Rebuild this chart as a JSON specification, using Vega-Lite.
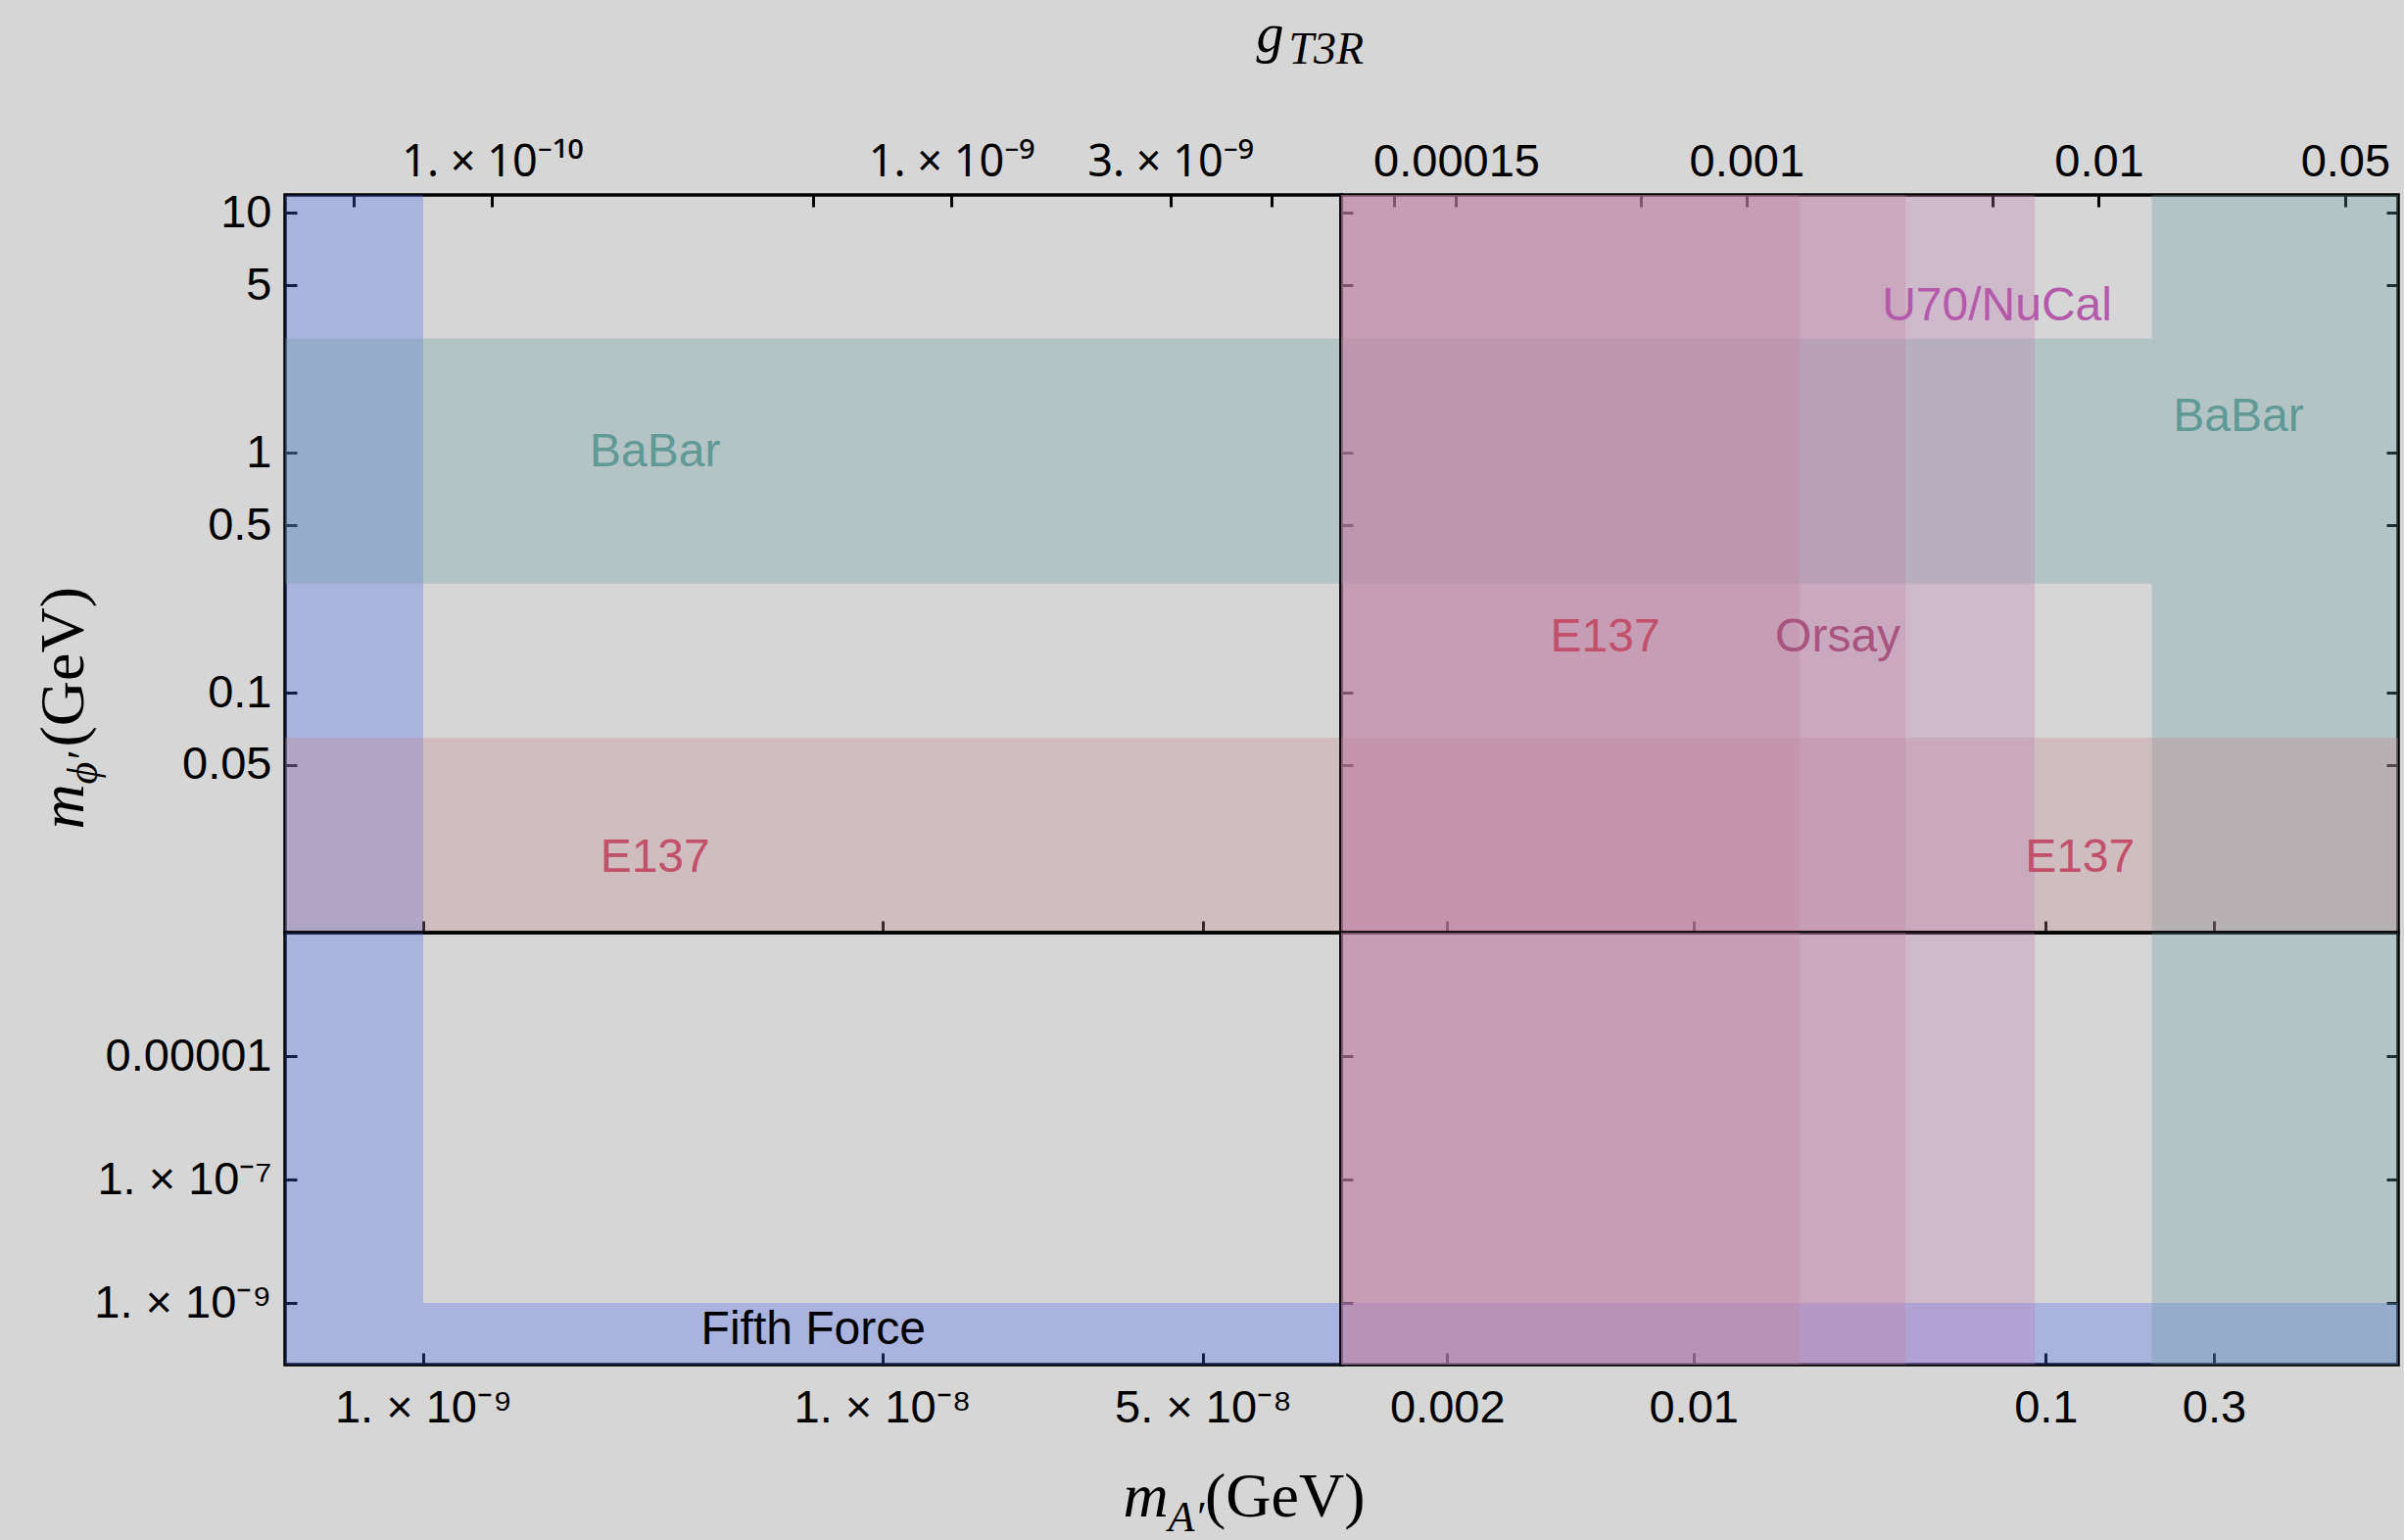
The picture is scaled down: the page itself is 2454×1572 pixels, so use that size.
{
  "$schema": "https://vega.github.io/schema/vega-lite/v6.json",
  "background": "#d6d6d6",
  "padding": {"left": 31, "top": 5, "right": 6, "bottom": 5},
  "datasets": {
    "regions": [
      {"experiment": "Fifth Force", "band": "upper", "mA_lo": 1e-12, "mA_hi": 1e-9, "mphi_lo": 0.001, "mphi_hi": 100},
      {"experiment": "BaBar", "band": "upper", "mA_lo": 1e-12, "mA_hi": 0.2, "mphi_lo": 0.285, "mphi_hi": 3},
      {"experiment": "BaBar", "band": "upper", "mA_lo": 0.2, "mA_hi": 10, "mphi_lo": 0.001, "mphi_hi": 100},
      {"experiment": "E137", "band": "upper", "mA_lo": 1e-12, "mA_hi": 10, "mphi_lo": 0.001, "mphi_hi": 0.065},
      {"experiment": "E137", "band": "upper", "mA_lo": 0.0001, "mA_hi": 0.02, "mphi_lo": 0.001, "mphi_hi": 100},
      {"experiment": "Orsay", "band": "upper", "mA_lo": 0.0001, "mA_hi": 0.04, "mphi_lo": 0.001, "mphi_hi": 100},
      {"experiment": "U70/NuCal", "band": "upper", "mA_lo": 0.0001, "mA_hi": 0.093, "mphi_lo": 0.001, "mphi_hi": 100},
      {"experiment": "Fifth Force", "band": "lower", "mA_lo": 1e-12, "mA_hi": 1e-9, "mphi_lo": 1e-12, "mphi_hi": 1},
      {"experiment": "Fifth Force", "band": "lower", "mA_lo": 1e-9, "mA_hi": 10, "mphi_lo": 1e-12, "mphi_hi": 1e-9},
      {"experiment": "BaBar", "band": "lower", "mA_lo": 0.2, "mA_hi": 10, "mphi_lo": 1e-12, "mphi_hi": 1},
      {"experiment": "E137", "band": "lower", "mA_lo": 0.0001, "mA_hi": 0.02, "mphi_lo": 1e-12, "mphi_hi": 1},
      {"experiment": "Orsay", "band": "lower", "mA_lo": 0.0001, "mA_hi": 0.04, "mphi_lo": 1e-12, "mphi_hi": 1},
      {"experiment": "U70/NuCal", "band": "lower", "mA_lo": 0.0001, "mA_hi": 0.093, "mphi_lo": 1e-12, "mphi_hi": 1}
    ],
    "labels": [
      {"label": "BaBar", "experiment": "BaBar", "band": "upper", "side": "left", "mA": 3.2e-9, "mphi": 1},
      {"label": "E137", "experiment": "E137", "band": "upper", "side": "left", "mA": 3.2e-9, "mphi": 0.0204},
      {"label": "U70/NuCal", "experiment": "U70/NuCal", "band": "upper", "side": "right", "mA": 0.0727, "mphi": 4.08},
      {"label": "BaBar", "experiment": "BaBar", "band": "upper", "side": "right", "mA": 0.352, "mphi": 1.41},
      {"label": "E137", "experiment": "E137", "band": "upper", "side": "right", "mA": 0.00562, "mphi": 0.17},
      {"label": "Orsay", "experiment": "Orsay", "band": "upper", "side": "right", "mA": 0.0257, "mphi": 0.17},
      {"label": "E137", "experiment": "E137", "band": "upper", "side": "right", "mA": 0.125, "mphi": 0.0204},
      {"label": "Fifth Force", "experiment": "Fifth Force", "band": "lower", "side": "left", "mA": 7.08e-9, "mphi": 3.65e-10}
    ],
    "gLeft": [{"g": 5e-11}, {"g": 1e-10}, {"g": 5e-10}, {"g": 1e-9}, {"g": 3e-9}, {"g": 5e-9}],
    "gRight": [{"g": 0.0001}, {"g": 0.00015}, {"g": 0.0005}, {"g": 0.001}, {"g": 0.005}, {"g": 0.01}, {"g": 0.05}],
    "phiUpper": [{"mphi": 10}, {"mphi": 5}, {"mphi": 1}, {"mphi": 0.5}, {"mphi": 0.1}, {"mphi": 0.05}],
    "phiLower": [{"mphi": 1e-5}, {"mphi": 1e-7}, {"mphi": 1e-9}]
  },
  "columns": 2,
  "spacing": 0,
  "bounds": "flush",
  "align": "each",
  "concat": [
    {
      "width": 1078,
      "height": 753,
      "layer": [
        {
          "layer": [
            {
              "data": {"name": "regions"},
              "transform": [{"filter": "datum.band === 'upper'"}],
              "mark": {"type": "rect", "clip": true, "opacity": 0.3},
              "encoding": {
                "x": {"field": "mA_lo", "type": "quantitative",
                  "scale": {"type": "log", "domain": [5e-10, 1e-7], "nice": false},
                  "axis": {"orient": "bottom", "values": [1e-9, 1e-8, 5e-8], "labels": false,
                    "title": "ϕ′", "titleFontSize": 44, "titleFontStyle": "italic", "titleAngle": 270,
                    "titleAlign": "left", "titleBaseline": "alphabetic", "titleX": -193, "titleY": -152}},
                "x2": {"field": "mA_hi"},
                "y": {"field": "mphi_lo", "type": "quantitative",
                  "scale": {"type": "log", "domain": [0.01, 11.9], "nice": false},
                  "axis": {"values": [10, 5, 1, 0.5, 0.1, 0.05], "labelExpr": "toString(datum.value)",
                    "title": "(GeV)", "titleFontSize": 64, "titleAngle": 270,
                    "titleAlign": "left", "titleBaseline": "alphabetic", "titleX": -207, "titleY": 563}},
                "y2": {"field": "mphi_hi"},
                "fill": {"field": "experiment", "type": "nominal", "legend": null,
                  "scale": {"domain": ["Fifth Force", "BaBar", "E137", "Orsay", "U70/NuCal"],
                    "range": ["#4365f1", "#689d9d", "#c5868d", "#c087a0", "#bf7cb5"]}}
              }
            },
            {
              "data": {"name": "labels"},
              "transform": [{"filter": "datum.band === 'upper' && datum.side === 'left'"}],
              "mark": {"type": "text", "clip": true, "font": "Liberation Sans", "fontSize": 48},
              "encoding": {
                "x": {"field": "mA", "type": "quantitative"},
                "y": {"field": "mphi", "type": "quantitative"},
                "text": {"field": "label"},
                "color": {"field": "experiment", "type": "nominal", "legend": null,
                  "scale": {"domain": ["Fifth Force", "BaBar", "E137", "Orsay", "U70/NuCal"],
                    "range": ["#000000", "#5f9a96", "#c2506a", "#a9537f", "#b55aab"]}}
              }
            }
          ]
        },
        {
          "data": {"name": "gLeft"},
          "mark": {"type": "rule", "opacity": 0},
          "encoding": {
            "x": {"field": "g", "type": "quantitative",
              "scale": {"type": "log", "domain": [3.54e-11, 7.07e-9], "nice": false},
              "axis": {"orient": "top", "values": [5e-11, 1e-10, 5e-10, 1e-9, 3e-9, 5e-9],
                "labelFont": "Noto Sans", "labelFontSize": 45,
                "labelExpr": "datum.value == 1e-10 ? '1. × 10⁻¹⁰' : datum.value == 1e-9 ? '1. × 10⁻⁹' : datum.value == 3e-9 ? '3. × 10⁻⁹' : ''",
                "title": "g", "titleFontSize": 56, "titleFontStyle": "italic", "titleAngle": 0,
                "titleAlign": "left", "titleBaseline": "alphabetic", "titleX": 991, "titleY": -147}}
          }
        }
      ],
      "resolve": {"scale": {"x": "independent"}}
    },
    {
      "width": 1079,
      "height": 753,
      "layer": [
        {
          "layer": [
            {
              "data": {"name": "regions"},
              "transform": [{"filter": "datum.band === 'upper'"}],
              "mark": {"type": "rect", "clip": true, "opacity": 0.3},
              "encoding": {
                "x": {"field": "mA_lo", "type": "quantitative",
                  "scale": {"type": "log", "domain": [0.001, 1], "nice": false},
                  "axis": {"orient": "bottom", "values": [0.002, 0.01, 0.1, 0.3], "labels": false, "title": null}},
                "x2": {"field": "mA_hi"},
                "y": {"field": "mphi_lo", "type": "quantitative",
                  "scale": {"type": "log", "domain": [0.01, 11.9], "nice": false},
                  "axis": {"values": [10, 5, 1, 0.5, 0.1, 0.05], "labels": false, "title": null}},
                "y2": {"field": "mphi_hi"},
                "fill": {"field": "experiment", "type": "nominal", "legend": null,
                  "scale": {"domain": ["Fifth Force", "BaBar", "E137", "Orsay", "U70/NuCal"],
                    "range": ["#4365f1", "#689d9d", "#c5868d", "#c087a0", "#bf7cb5"]}}
              }
            },
            {
              "data": {"name": "labels"},
              "transform": [{"filter": "datum.band === 'upper' && datum.side === 'right'"}],
              "mark": {"type": "text", "clip": true, "font": "Liberation Sans", "fontSize": 48},
              "encoding": {
                "x": {"field": "mA", "type": "quantitative"},
                "y": {"field": "mphi", "type": "quantitative"},
                "text": {"field": "label"},
                "color": {"field": "experiment", "type": "nominal", "legend": null,
                  "scale": {"domain": ["Fifth Force", "BaBar", "E137", "Orsay", "U70/NuCal"],
                    "range": ["#000000", "#5f9a96", "#c2506a", "#a9537f", "#b55aab"]}}
              }
            }
          ]
        },
        {
          "data": {"name": "gRight"},
          "mark": {"type": "rule", "opacity": 0},
          "encoding": {
            "x": {"field": "g", "type": "quantitative",
              "scale": {"type": "log", "domain": [7.07e-5, 0.0707], "nice": false},
              "axis": {"orient": "top", "values": [0.0001, 0.00015, 0.0005, 0.001, 0.005, 0.01, 0.05],
                "labelExpr": "indexof([0.00015, 0.001, 0.01, 0.05], datum.value) >= 0 ? toString(datum.value) : ''",
                "title": "T3R", "titleFontSize": 46, "titleFontStyle": "italic", "titleAngle": 0,
                "titleAlign": "left", "titleBaseline": "alphabetic", "titleX": -54, "titleY": -135}}
          }
        },
        {
          "data": {"name": "phiUpper"},
          "mark": {"type": "rule", "opacity": 0},
          "encoding": {
            "y": {"field": "mphi", "type": "quantitative",
              "scale": {"type": "log", "domain": [0.01, 11.9], "nice": false},
              "axis": {"orient": "right", "values": [10, 5, 1, 0.5, 0.1, 0.05], "labels": false, "title": null}}
          }
        }
      ],
      "resolve": {"scale": {"x": "independent", "y": "independent"}}
    },
    {
      "width": 1078,
      "height": 441,
      "layer": [
        {
          "data": {"name": "regions"},
          "transform": [{"filter": "datum.band === 'lower'"}],
          "mark": {"type": "rect", "clip": true, "opacity": 0.3},
          "encoding": {
            "x": {"field": "mA_lo", "type": "quantitative",
              "scale": {"type": "log", "domain": [5e-10, 1e-7], "nice": false},
              "axis": {"orient": "bottom", "values": [1e-9, 1e-8, 5e-8],
                "labelExpr": "datum.value == 1e-9 ? '1. × 10⁻⁹' : datum.value == 1e-8 ? '1. × 10⁻⁸' : '5. × 10⁻⁸'",
                "title": "m", "titleFontSize": 64, "titleFontStyle": "italic", "titleAngle": 0,
                "titleAlign": "left", "titleBaseline": "alphabetic", "titleX": 855, "titleY": 154}},
            "x2": {"field": "mA_hi"},
            "y": {"field": "mphi_lo", "type": "quantitative",
              "scale": {"type": "log", "domain": [1e-10, 0.001], "nice": false},
              "axis": {"values": [1e-5, 1e-7, 1e-9],
                "labelExpr": "datum.value == 1e-5 ? '0.00001' : datum.value == 1e-7 ? '1. × 10⁻⁷' : '1. × 10⁻⁹'",
                "title": "m", "titleFontSize": 64, "titleFontStyle": "italic", "titleAngle": 270,
                "titleAlign": "left", "titleBaseline": "alphabetic", "titleX": -207, "titleY": -106}},
            "y2": {"field": "mphi_hi"},
            "fill": {"field": "experiment", "type": "nominal", "legend": null,
              "scale": {"domain": ["Fifth Force", "BaBar", "E137", "Orsay", "U70/NuCal"],
                "range": ["#4365f1", "#689d9d", "#c5868d", "#c087a0", "#bf7cb5"]}}
          }
        },
        {
          "data": {"name": "labels"},
          "transform": [{"filter": "datum.band === 'lower' && datum.side === 'left'"}],
          "mark": {"type": "text", "clip": true, "font": "Liberation Sans", "fontSize": 48},
          "encoding": {
            "x": {"field": "mA", "type": "quantitative"},
            "y": {"field": "mphi", "type": "quantitative"},
            "text": {"field": "label"},
            "color": {"field": "experiment", "type": "nominal", "legend": null,
              "scale": {"domain": ["Fifth Force", "BaBar", "E137", "Orsay", "U70/NuCal"],
                "range": ["#000000", "#5f9a96", "#c2506a", "#a9537f", "#b55aab"]}}
          }
        }
      ]
    },
    {
      "width": 1079,
      "height": 441,
      "layer": [
        {
          "data": {"name": "regions"},
          "transform": [{"filter": "datum.band === 'lower'"}],
          "mark": {"type": "rect", "clip": true},
          "encoding": {
            "x": {"field": "mA_lo", "type": "quantitative",
              "scale": {"type": "log", "domain": [0.001, 1], "nice": false},
              "axis": {"orient": "bottom", "values": [0.002, 0.01, 0.1, 0.3], "labelExpr": "toString(datum.value)",
                "title": "A′", "titleFontSize": 44, "titleFontStyle": "italic", "titleAngle": 0,
                "titleAlign": "left", "titleBaseline": "alphabetic", "titleX": -177, "titleY": 169}},
            "x2": {"field": "mA_hi"},
            "y": {"field": "mphi_lo", "type": "quantitative",
              "scale": {"type": "log", "domain": [1e-10, 0.001], "nice": false},
              "axis": {"values": [1e-5, 1e-7, 1e-9], "labels": false,
                "title": "(GeV)", "titleFontSize": 64, "titleAngle": 0,
                "titleAlign": "right", "titleBaseline": "alphabetic", "titleX": 24, "titleY": 595}},
            "y2": {"field": "mphi_hi"},
            "fill": {"field": "experiment", "type": "nominal", "legend": null,
              "scale": {"domain": ["Fifth Force", "BaBar", "E137", "Orsay", "U70/NuCal"],
                "range": ["#4365f1", "#689d9d", "#c5868d", "#c087a0", "#bf7cb5"]}},
            "opacity": {"field": "experiment", "type": "nominal", "legend": null,
              "scale": {"domain": ["Fifth Force", "BaBar", "E137", "Orsay", "U70/NuCal"],
                "range": [0.3, 0.3, 0.6, 0.45, 0.3]}}
          }
        },
        {
          "data": {"name": "phiLower"},
          "mark": {"type": "rule", "opacity": 0},
          "encoding": {
            "y": {"field": "mphi", "type": "quantitative",
              "scale": {"type": "log", "domain": [1e-10, 0.001], "nice": false},
              "axis": {"orient": "right", "values": [1e-5, 1e-7, 1e-9], "labels": false, "title": null}}
          }
        }
      ],
      "resolve": {"scale": {"y": "independent"}}
    }
  ],
  "config": {
    "view": {"stroke": "#000000", "strokeWidth": 3.5},
    "axis": {
      "domain": false, "grid": false, "ticks": true,
      "tickColor": "#000000", "tickWidth": 3, "tickSize": -12,
      "labelFont": "Liberation Sans", "labelFontSize": 47, "labelColor": "#000000",
      "labelFlush": false, "labelOverlap": false, "labelBound": false, "labelLimit": 0,
      "titleFont": "Liberation Serif", "titleColor": "#000000", "titleFontWeight": "normal",
      "titlePadding": 0, "zindex": 1
    },
    "axisLeft": {"labelPadding": 26},
    "axisRight": {"labelPadding": 26},
    "axisTop": {"labelPadding": 32, "labelBaseline": "alphabetic"},
    "axisBottom": {"labelPadding": 70, "labelBaseline": "alphabetic"}
  }
}
